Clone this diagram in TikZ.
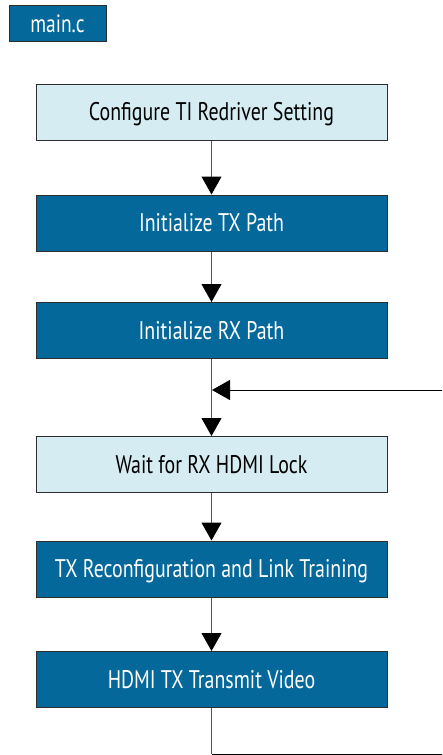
\documentclass[tikz,border=0pt]{standalone}
\usepackage{fontspec}
\setmainfont{PT Sans}[FakeStretch=0.78]
\usetikzlibrary{arrows.meta}
\definecolor{stepdark}{HTML}{05689A}
\definecolor{steplight}{HTML}{D5ECF3}
\definecolor{edgegray}{HTML}{2E2E2E}
\definecolor{flowgray}{HTML}{555555}
\begin{document}
\begin{tikzpicture}[x=1pt,y=-1pt,
  boxbase/.style={draw=edgegray,line width=1pt,minimum width=351pt,minimum height=56pt,inner sep=0pt,text height=17pt,text depth=0pt,font=\fontsize{25.5}{28}\selectfont},
  darkstep/.style={boxbase,fill=stepdark,text=white},
  lightstep/.style={boxbase,fill=steplight,text=black},
  tagbox/.style={draw=edgegray,line width=1pt,fill=stepdark,text=white,minimum width=97pt,minimum height=36pt,inner sep=0pt,text height=18pt,text depth=0pt,font=\fontsize{25}{28}\selectfont},
  flow/.style={draw=flowgray,line width=1pt,-{Triangle[width=20pt,length=18pt,fill=black,color=black]}},
  loopline/.style={draw=black,line width=1pt}
]
\useasboundingbox (0,0) rectangle (442,755);
\clip (0,0) rectangle (442,755);

% file label
\node[tagbox] (file) at (57.5,23) {main.c};

% processing steps, top to bottom
\node[lightstep] (cfg)  at (211.5,112)   {Configure TI Redriver Setting};
\node[darkstep]  (tx)   at (211.5,223)   {Initialize TX Path};
\node[darkstep]  (rx)   at (211.5,330.5) {Initialize RX Path};
\node[lightstep] (wait) at (211.5,464.5) {Wait for RX HDMI Lock};
\node[darkstep]  (rcfg) at (211.5,569)   {TX Reconfiguration and Link Training};
\node[darkstep]  (vid)  at (211.5,679.5) {HDMI TX Transmit Video};

% junction where the loop rejoins the main flow
\coordinate (join) at (rx.south |- 0,390);
\coordinate (loopdown) at (vid.south |- 0,754);
\coordinate (loopright) at (444,754);
\coordinate (loopup) at (444,390);

\draw[flow] (cfg.south) -- (tx.north);
\draw[flow] (tx.south) -- (rx.north);
\draw[flow] (rx.south) -- (wait.north);
\draw[flow] (wait.south) -- (rcfg.north);
\draw[flow] (rcfg.south) -- (vid.north);

% loop back from video output to the lock wait
\draw[flowgray,line width=1pt] (vid.south) -- (loopdown);
\draw[loopline] (loopdown) -- (loopright) -- (loopup);
\draw[loopline,-{Triangle[width=20pt,length=18pt]}] (loopup) -- ([xshift=0.5pt]join);
\end{tikzpicture}
\end{document}
